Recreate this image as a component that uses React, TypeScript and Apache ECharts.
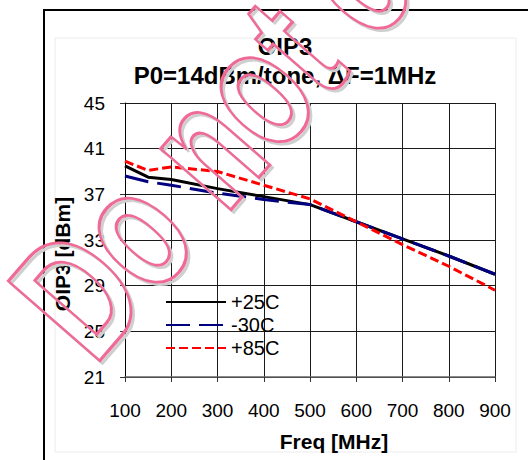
import React, { useEffect, useRef } from 'react';
import * as echarts from 'echarts';

// ---- data ----
const freqs = [100, 150, 200, 300, 400, 500, 600, 700, 800, 900];
const oip3P25 = [39.5, 38.5, 38.3, 37.5, 36.8, 36.1, 34.6, 33.1, 31.6, 30.0];
const oip3M30 = [38.6, 38.1, 37.8, 37.1, 36.55, 36.1, 34.6, 33.1, 31.6, 30.0];
const oip3P85 = [39.9, 39.1, 39.4, 39.0, 37.8, 36.6, 34.6, 32.6, 30.7, 28.6];
const seriesNames = ['+25C', '-30C', '+85C'];
const seriesColors = ['#000000', '#000080', '#ff0000'];
const yMin = 21;
const yMax = 45;
const yStep = 4;
const xMin = 100;
const xMax = 900;
const xStep = 100;
const titleLines = ['OIP3', 'P0=14dBm/tone, \u0394F=1MHz'];
const xName = 'Freq [MHz]';
const yName = 'OIP3 [dBm]';
const watermark = 'Do not copy';

const FONT = '"Liberation Sans", Arial, Helvetica, sans-serif';

export default function App() {
  const ref = useRef<HTMLDivElement>(null);
  useEffect(() => {
    if (!ref.current) return;
    const chart = echarts.init(ref.current, undefined, { renderer: 'svg' });
    const allValues = [oip3P25, oip3M30, oip3P85];
    const dashes: any[] = ['solid', [24, 9], [9, 4]];

    // watermark: outlined bold text, rotated and stretched
    const WM_F = 124;
    const WM_SY = 1.42;
    const wmText = (dx: number, dy: number, stroke: string, z: number) => ({
      type: 'text',
      x: 100 + dx,
      y: 360 + dy,
      rotation: 0.855,
      scaleY: WM_SY,
      z,
      silent: true,
      style: {
        text: watermark,
        x: -0.073 * WM_F,
        y: -0.3465 * WM_F,
        font: `bold ${WM_F}px ${FONT}`,
        textAlign: 'left',
        textVerticalAlign: 'middle',
        align: 'left',
        verticalAlign: 'middle',
        fill: 'none',
        stroke,
        lineWidth: 2.3,
      },
    });

    const option: any = {
      animation: false,
      backgroundColor: '#ffffff',
      textStyle: { fontFamily: FONT, color: '#000' },
      grid: { left: 125, right: 33, top: 103, bottom: 83, containLabel: false },
      xAxis: {
        type: 'value',
        min: xMin,
        max: xMax,
        interval: xStep,
        name: xName,
        nameLocation: 'middle',
        nameGap: 54,
        nameTextStyle: { fontSize: 21, fontWeight: 'bold', color: '#000', fontFamily: FONT, padding: [0, 0, 0, 48] },
        axisLine: { show: true, onZero: false, lineStyle: { color: '#666', width: 1.5 } },
        axisTick: { show: true, inside: false, length: 5, lineStyle: { color: '#333' } },
        axisLabel: { fontSize: 19, color: '#000', margin: 24, fontFamily: FONT },
        splitLine: { show: true, lineStyle: { color: '#1a1a1a', width: 1 } },
      },
      yAxis: {
        type: 'value',
        min: 0,
        max: yMax - yMin,
        interval: yStep,
        name: yName,
        nameLocation: 'middle',
        nameRotate: 90,
        nameGap: 41,
        nameTextStyle: { fontSize: 21, fontWeight: 'bold', color: '#000', fontFamily: FONT, padding: [0, 28, 0, 0] },
        axisLine: { show: true, onZero: false, lineStyle: { color: '#000', width: 1 } },
        axisTick: { show: true, inside: false, length: 5, lineStyle: { color: '#333' } },
        axisLabel: {
          fontSize: 19,
          color: '#000',
          margin: 20,
          fontFamily: FONT,
          formatter: (v: number) => String(v + yMin),
        },
        splitLine: { show: true, lineStyle: { color: '#1a1a1a', width: 1 } },
      },
      legend: {
        orient: 'vertical',
        left: 165,
        top: 292,
        padding: 0,
        itemWidth: 60,
        itemHeight: 14,
        itemGap: 3,
        data: seriesNames,
        itemStyle: { opacity: 0 },
        textStyle: { fontSize: 20, color: '#000', fontFamily: FONT },
      },
      series: seriesNames.map((name, k) => ({
        name,
        type: 'line',
        symbol: 'none',
        showSymbol: false,
        z: 2 + k,
        lineStyle: { color: seriesColors[k], width: 3, type: dashes[k] },
        itemStyle: { color: seriesColors[k] },
        data: freqs.map((f, i) => [f, allValues[k][i] - yMin]),
      })),
      graphic: [
        {
          type: 'rect',
          z: -10,
          silent: true,
          shape: { x: 55, y: 38, width: 461, height: 414 },
          style: { fill: 'none', stroke: '#ececec', lineWidth: 1 },
        },
        {
          type: 'rect',
          z: 50,
          silent: true,
          shape: { x: 44, y: 10, width: 600, height: 600 },
          style: { fill: 'none', stroke: '#000', lineWidth: 2 },
        },
        {
          type: 'text',
          x: 285,
          y: 46,
          z: 10,
          style: {
            text: titleLines[0],
            font: `bold 24px ${FONT}`,
            textAlign: 'center',
            textVerticalAlign: 'middle',
            align: 'center',
            verticalAlign: 'middle',
            fill: '#000',
          },
        },
        {
          type: 'text',
          x: 285,
          y: 75,
          z: 10,
          style: {
            text: titleLines[1],
            font: `bold 24px ${FONT}`,
            textAlign: 'center',
            textVerticalAlign: 'middle',
            align: 'center',
            verticalAlign: 'middle',
            fill: '#000',
          },
        },
        wmText(2.5, 2.5, '#cfcfcf', 90),
        wmText(0, 0, '#f06a96', 100),
      ],
    };
    chart.setOption(option);
    return () => chart.dispose();
  }, []);
  return (
    <div
      ref={ref}
      style={{ position: 'fixed', left: 0, top: 0, width: 528, height: 460, background: '#fff' }}
    />
  );
}
